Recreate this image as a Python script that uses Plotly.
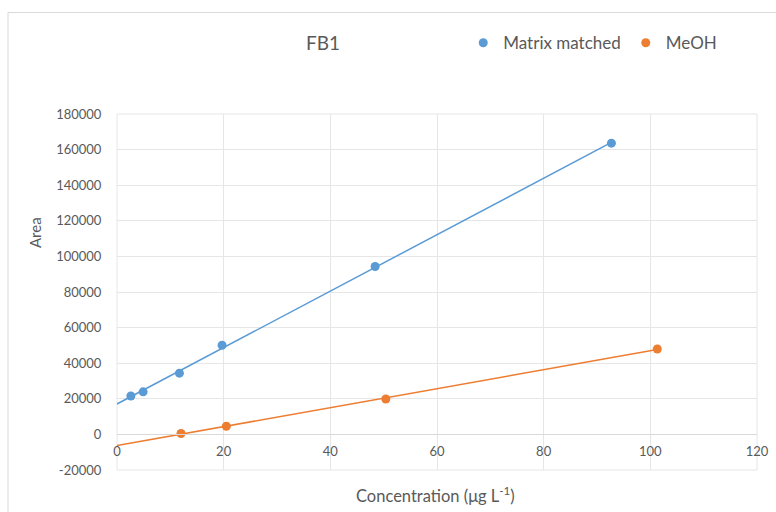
import numpy as np
import plotly.graph_objects as go

# Calibration data for FB1
matrix_conc = [2.6, 4.9, 11.7, 19.7, 48.4, 92.7]
matrix_area = [21600, 23900, 34400, 50100, 94300, 163600]
meoh_conc = [12.0, 20.5, 50.4, 101.3]
meoh_area = [500, 4600, 19900, 48000]

x_ticks = [0, 20, 40, 60, 80, 100, 120]
y_ticks = [-20000, 0, 20000, 40000, 60000, 80000, 100000, 120000, 140000, 160000, 180000]

BLUE = "#5b9bd5"
ORANGE = "#ed7d31"
TEXT = "#595959"
GRID = "#e6e6e6"
FONT = "Lato"

fig = go.Figure()


def add_series(xs, ys, name, color):
    # linear least-squares trendline, drawn from the origin to the last standard
    slope, intercept = np.polyfit(xs, ys, 1)
    tx = np.array([0.0, max(xs)])
    fig.add_trace(go.Scatter(x=tx, y=slope * tx + intercept, mode="lines",
                             line=dict(color=color, width=1.5),
                             showlegend=False, hoverinfo="skip"))
    fig.add_trace(go.Scatter(x=xs, y=ys, mode="markers", name=name,
                             marker=dict(color=color, size=9)))


add_series(matrix_conc, matrix_area, "Matrix matched", BLUE)
add_series(meoh_conc, meoh_area, "MeOH", ORANGE)

fig.update_layout(
    width=776, height=512,
    margin=dict(l=117, r=19, t=114, b=42, autoexpand=False),
    paper_bgcolor="white", plot_bgcolor="white",
    font=dict(family=FONT, color=TEXT, size=13),
    title=dict(text="FB1", x=323 / 776, xref="container", xanchor="center",
               y=1 - 43 / 512, yref="container", yanchor="middle",
               font=dict(family=FONT, size=19, color=TEXT)),
    legend=dict(orientation="h", x=0.541, xanchor="left", y=1.199, yanchor="middle",
                font=dict(family=FONT, size=17, color=TEXT),
                bgcolor="rgba(0,0,0,0)", itemwidth=30, tracegroupgap=0),
    showlegend=True,
)

fig.update_xaxes(
    range=[0, 120], tickvals=x_ticks, ticktext=[str(v) for v in x_ticks],
    showgrid=True, gridcolor=GRID, gridwidth=1, automargin=False,
    zeroline=False, showline=True, linecolor="#d9d9d9", linewidth=1,
    anchor="free", position=0.1, ticks="outside", ticklen=5, tickcolor="rgba(0,0,0,0)",
    tickfont=dict(family=FONT, size=13, color=TEXT),
)
fig.update_yaxes(
    range=[-20000, 180000], tickvals=y_ticks, ticktext=[str(v) for v in y_ticks],
    showgrid=True, gridcolor=GRID, gridwidth=1, automargin=False,
    zeroline=False, showline=False,
    ticks="outside", ticklen=12, tickcolor="rgba(0,0,0,0)",
    tickfont=dict(family=FONT, size=13, color=TEXT),
)

# plot-area frame and outer chart border
fig.add_shape(type="rect", xref="paper", yref="paper", x0=0, x1=1, y0=0, y1=1,
              line=dict(color=GRID, width=1), layer="below")
fig.add_shape(type="rect", xref="paper", yref="paper",
              x0=(8 - 117) / 640, x1=1.2, y0=-0.3, y1=(470 - 12.5) / 356,
              line=dict(color="#d9d9d9", width=1), layer="below")

# axis titles
fig.add_annotation(text="Concentration (μg L<sup>-1</sup>)", xref="paper", yref="paper",
                   x=0.497, y=(470 - 495) / 356, xanchor="center", yanchor="middle",
                   showarrow=False, font=dict(family=FONT, size=16.5, color=TEXT))
fig.add_annotation(text="Area", xref="paper", yref="paper",
                   x=(35 - 117) / 640, y=(470 - 233) / 356, xanchor="center", yanchor="middle",
                   textangle=-90, showarrow=False, font=dict(family=FONT, size=15, color=TEXT))

fig.write_html("out.html")
